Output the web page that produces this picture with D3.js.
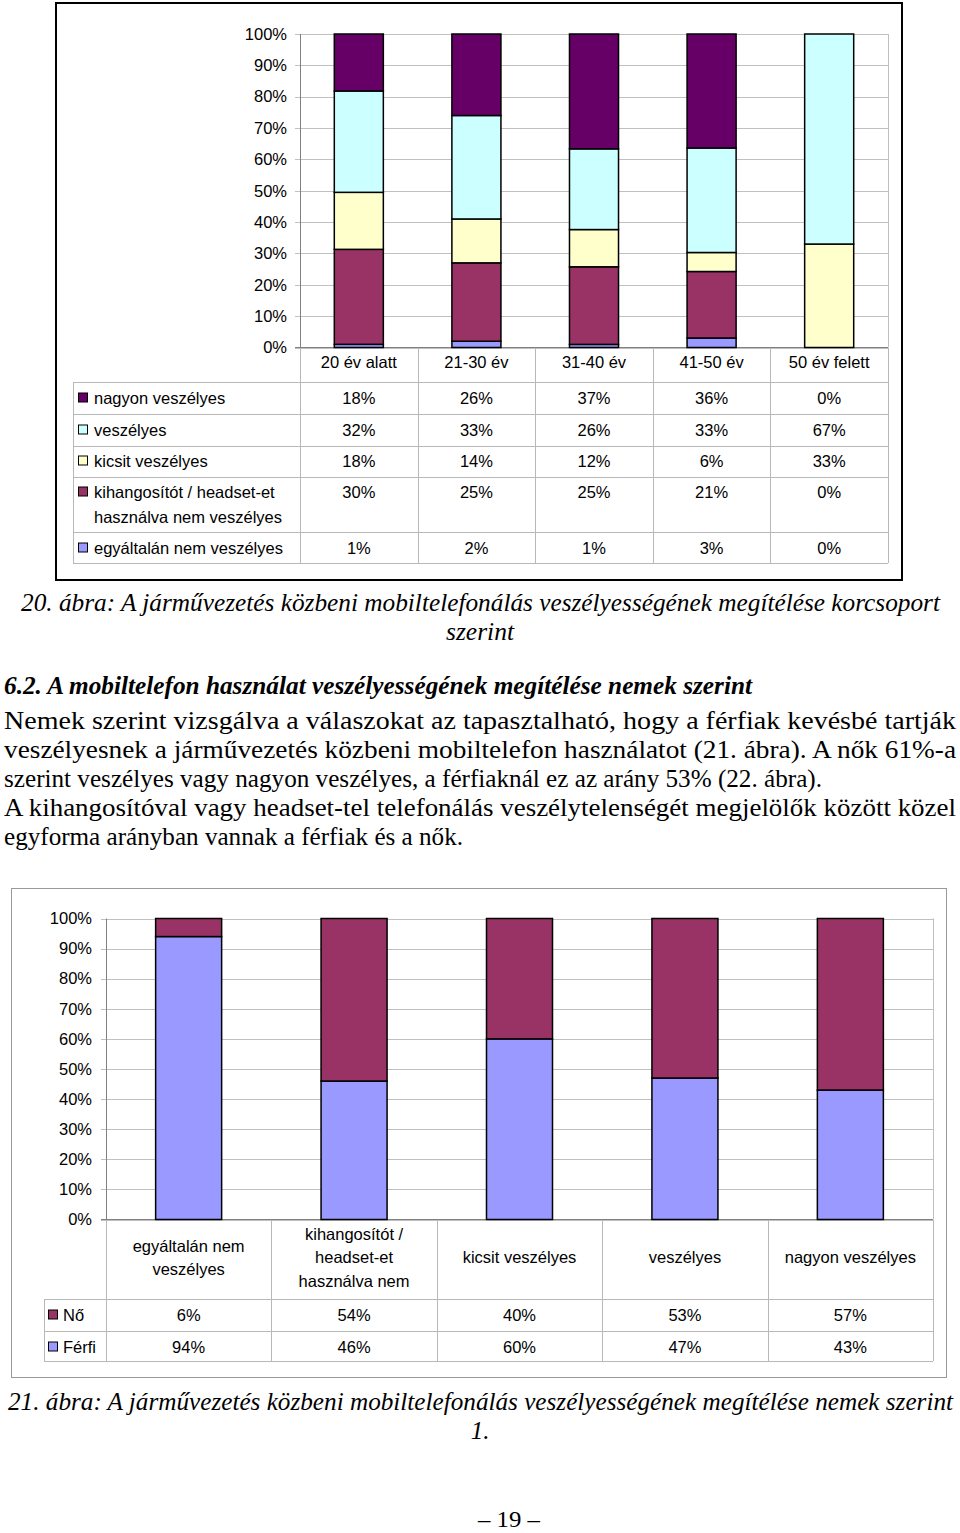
<!DOCTYPE html>
<html>
<head>
<meta charset="utf-8">
<script src="https://cdn.jsdelivr.net/npm/d3@7"></script>
<style>
  html, body { margin: 0; padding: 0; background: #fff; }
  svg { display: block; }
</style>
</head>
<body>
<script>
// ---------- DATA ----------
const ageGroups = ["20 év alatt", "21-30 év", "31-40 év", "41-50 év", "50 év felett"];
const ageSeries = ["nagyon veszélyes", "veszélyes", "kicsit veszélyes", "kihangosítót / headset-et használva nem veszélyes", "egyáltalán nem veszélyes"];
const ageSeriesLabels = [["nagyon veszélyes"], ["veszélyes"], ["kicsit veszélyes"], ["kihangosítót / headset-et", "használva nem veszélyes"], ["egyáltalán nem veszélyes"]];
const nagyonVeszelyes = [18, 26, 37, 36, 0];
const veszelyes = [32, 33, 26, 33, 67];
const kicsitVeszelyes = [18, 14, 12, 6, 33];
const kihangositot = [30, 25, 25, 21, 0];
const egyaltalanNem = [1, 2, 1, 3, 0];
const ageColors = ["#660066", "#CCFFFF", "#FFFFCC", "#993366", "#9999FF"];

const genderCats = ["egyáltalán nem veszélyes", "kihangosítót / headset-et használva nem", "kicsit veszélyes", "veszélyes", "nagyon veszélyes"];
const genderCatLabels = [["egyáltalán nem", "veszélyes"], ["kihangosítót /", "headset-et", "használva nem"], ["kicsit veszélyes"], ["veszélyes"], ["nagyon veszélyes"]];
const genderSeries = ["Nő", "Férfi"];
const no = [6, 54, 40, 53, 57];
const ferfi = [94, 46, 60, 47, 43];
const genderColors = ["#993366", "#9999FF"];

const pctTicks = [0, 10, 20, 30, 40, 50, 60, 70, 80, 90, 100];
const pctTickLabels = ["0%", "10%", "20%", "30%", "40%", "50%", "60%", "70%", "80%", "90%", "100%"];

// ---------- SETUP ----------
const W = 960, H = 1533;
const svg = d3.select("body").append("svg").attr("width", W).attr("height", H);
const sans = "Liberation Sans, Arial, sans-serif";
const serif = "Liberation Serif, Times New Roman, serif";
const gridCol = "#c0c0c0", axisCol = "#808080", tableCol = "#b8b8b8";
const fs = 16.5;

// ================= CHART 1 =================
svg.append("rect").attr("x", 56).attr("y", 3).attr("width", 846).attr("height", 577)
  .attr("fill", "none").attr("stroke", "#000").attr("stroke-width", 2);

const x1 = d3.scaleBand().domain(ageGroups).range([300, 888]).paddingInner(0.583).paddingOuter(0.2917);
const y1 = d3.scaleLinear().domain([0, 100]).range([347.5, 34]);

const ageValues = [nagyonVeszelyes, veszelyes, kicsitVeszelyes, kihangositot, egyaltalanNem];
const ageRows = ageGroups.map((g, i) => {
  const o = { group: g };
  ageSeries.forEach((s, j) => o[s] = ageValues[j][i]);
  return o;
});
const ageStackKeys = ageSeries.slice().reverse();
const ageStack = d3.stack().keys(ageStackKeys).offset(d3.stackOffsetExpand)(ageRows);

const g1 = svg.append("g");
g1.selectAll("line.grid").data(pctTicks).join("line")
  .attr("x1", 295).attr("x2", 888)
  .attr("y1", d => Math.round(y1(d)) + 0.5).attr("y2", d => Math.round(y1(d)) + 0.5)
  .attr("stroke", gridCol);
g1.append("line").attr("x1", 888.5).attr("x2", 888.5).attr("y1", 34).attr("y2", 347.5).attr("stroke", gridCol);
g1.append("line").attr("x1", 300.5).attr("x2", 300.5).attr("y1", 34).attr("y2", 348).attr("stroke", axisCol);
g1.append("line").attr("x1", 295).attr("x2", 888).attr("y1", 347.5).attr("y2", 347.5).attr("stroke", axisCol);
g1.selectAll("text.yl").data(pctTicks).join("text")
  .attr("x", 287).attr("y", d => y1(d)).attr("dy", "0.35em")
  .attr("text-anchor", "end").attr("font-family", sans).attr("font-size", fs)
  .text((d, i) => pctTickLabels[i]);
ageStack.forEach(layer => {
  const color = ageColors[ageSeries.indexOf(layer.key)];
  g1.selectAll(null).data(layer.filter(d => d[1] - d[0] > 0)).join("rect")
    .attr("x", d => x1(d.data.group))
    .attr("width", x1.bandwidth())
    .attr("y", d => y1(d[1] * 100))
    .attr("height", d => y1(d[0] * 100) - y1(d[1] * 100))
    .attr("fill", color).attr("stroke", "#000").attr("stroke-width", 1.5);
});
g1.selectAll("text.cat").data(ageGroups).join("text")
  .attr("x", d => x1(d) + x1.bandwidth() / 2).attr("y", 362).attr("dy", "0.35em")
  .attr("text-anchor", "middle").attr("font-family", sans).attr("font-size", fs)
  .text(d => d);
const t1Rows = [382, 414, 446, 477, 532, 563];
g1.selectAll("line.trow").data(t1Rows).join("line")
  .attr("x1", 73).attr("x2", 888).attr("y1", d => d + 0.5).attr("y2", d => d + 0.5).attr("stroke", tableCol);
const t1Cols = ageGroups.map(g => x1(g) - x1.step() * x1.paddingInner() / 2).concat([888]);
g1.selectAll("line.tcol").data(t1Cols).join("line")
  .attr("x1", d => Math.round(d) + 0.5).attr("x2", d => Math.round(d) + 0.5)
  .attr("y1", 348).attr("y2", 563).attr("stroke", tableCol);
g1.append("line").attr("x1", 73.5).attr("x2", 73.5).attr("y1", 382).attr("y2", 563).attr("stroke", tableCol);
const rowY1 = [398, 430, 461, 492, 548];
ageSeries.forEach((s, j) => {
  const yy = rowY1[j];
  g1.append("rect").attr("x", 78.5).attr("y", yy - 5).attr("width", 9).attr("height", 9)
    .attr("fill", ageColors[j]).attr("stroke", "#000").attr("stroke-width", 1);
  ageSeriesLabels[j].forEach((ln, k) => {
    g1.append("text").attr("x", 94).attr("y", yy + k * 25).attr("dy", "0.35em")
      .attr("font-family", sans).attr("font-size", fs).text(ln);
  });
  g1.selectAll(null).data(ageGroups).join("text")
    .attr("x", (d) => x1(d) + x1.bandwidth() / 2).attr("y", yy).attr("dy", "0.35em")
    .attr("text-anchor", "middle").attr("font-family", sans).attr("font-size", fs)
    .text((d, i) => ageValues[j][i] + "%");
});

// ================= TEXT BLOCK =================
function serifLine(txt, x, y, len, opts = {}) {
  const t = svg.append("text").attr("x", x).attr("y", y)
    .attr("font-family", serif).attr("font-size", opts.size || 25)
    .attr("font-style", opts.italic ? "italic" : "normal")
    .attr("font-weight", opts.bold ? "bold" : "normal")
    .attr("text-anchor", opts.anchor || "start")
    .text(txt);
  if (len) t.attr("textLength", len).attr("lengthAdjust", "spacingAndGlyphs");
  return t;
}
serifLine("20. ábra: A járművezetés közbeni mobiltelefonálás veszélyességének megítélése korcsoport", 21, 611, 919, { italic: true });
serifLine("szerint", 480, 640, 68, { italic: true, anchor: "middle" });
serifLine("6.2. A mobiltelefon használat veszélyességének megítélése nemek szerint", 4, 694, 748, { italic: true, bold: true });
serifLine("Nemek szerint vizsgálva a válaszokat az tapasztalható, hogy a férfiak kevésbé tartják", 4, 729, 952);
serifLine("veszélyesnek a járművezetés közbeni mobiltelefon használatot (21. ábra). A nők 61%-a", 4, 758, 952);
serifLine("szerint veszélyes vagy nagyon veszélyes, a férfiaknál ez az arány 53% (22. ábra).", 4, 787, 818);
serifLine("A kihangosítóval vagy headset-tel telefonálás veszélytelenségét megjelölők között közel", 4, 816, 952);
serifLine("egyforma arányban vannak a férfiak és a nők.", 4, 845, 459);

// ================= CHART 2 =================
svg.append("rect").attr("x", 11.5).attr("y", 888.5).attr("width", 935).attr("height", 489)
  .attr("fill", "none").attr("stroke", "#999").attr("stroke-width", 1);

const x2 = d3.scaleBand().domain(genderCats).range([106, 933]).paddingInner(0.601).paddingOuter(0.3);
const y2 = d3.scaleLinear().domain([0, 100]).range([1219.5, 918.5]);
const genderValues = [no, ferfi];
const genderRows = genderCats.map((c, i) => ({ cat: c, "Nő": no[i], "Férfi": ferfi[i] }));
const genderStack = d3.stack().keys(["Férfi", "Nő"]).offset(d3.stackOffsetExpand)(genderRows);

const g2 = svg.append("g");
g2.selectAll("line.grid").data(pctTicks).join("line")
  .attr("x1", 101).attr("x2", 933)
  .attr("y1", d => Math.round(y2(d)) + 0.5).attr("y2", d => Math.round(y2(d)) + 0.5)
  .attr("stroke", gridCol);
g2.append("line").attr("x1", 933.5).attr("x2", 933.5).attr("y1", 918.5).attr("y2", 1219.5).attr("stroke", gridCol);
g2.append("line").attr("x1", 106.5).attr("x2", 106.5).attr("y1", 918.5).attr("y2", 1220).attr("stroke", axisCol);
g2.append("line").attr("x1", 101).attr("x2", 933).attr("y1", 1219.5).attr("y2", 1219.5).attr("stroke", axisCol);
g2.selectAll("text.yl").data(pctTicks).join("text")
  .attr("x", 92).attr("y", d => y2(d)).attr("dy", "0.35em")
  .attr("text-anchor", "end").attr("font-family", sans).attr("font-size", fs)
  .text((d, i) => pctTickLabels[i]);
genderStack.forEach(layer => {
  const color = genderColors[genderSeries.indexOf(layer.key)];
  g2.selectAll(null).data(layer.filter(d => d[1] - d[0] > 0)).join("rect")
    .attr("x", d => x2(d.data.cat))
    .attr("width", x2.bandwidth())
    .attr("y", d => y2(d[1] * 100))
    .attr("height", d => y2(d[0] * 100) - y2(d[1] * 100))
    .attr("fill", color).attr("stroke", "#000").attr("stroke-width", 1.5);
});
genderCats.forEach((c, i) => {
  const lines = genderCatLabels[i];
  const cy = 1257.5;
  lines.forEach((ln, k) => {
    g2.append("text").attr("x", x2(c) + x2.bandwidth() / 2)
      .attr("y", cy + (k - (lines.length - 1) / 2) * 23.5).attr("dy", "0.35em")
      .attr("text-anchor", "middle").attr("font-family", sans).attr("font-size", fs).text(ln);
  });
});
const t2Rows = [1299, 1331, 1361];
g2.selectAll("line.trow").data(t2Rows).join("line")
  .attr("x1", 44).attr("x2", 933).attr("y1", d => d + 0.5).attr("y2", d => d + 0.5).attr("stroke", tableCol);
const t2Cols = genderCats.map(c => x2(c) - x2.step() * x2.paddingInner() / 2).concat([933]);
g2.selectAll("line.tcol").data(t2Cols).join("line")
  .attr("x1", d => Math.round(d) + 0.5).attr("x2", d => Math.round(d) + 0.5)
  .attr("y1", 1220).attr("y2", 1361).attr("stroke", tableCol);
g2.append("line").attr("x1", 44.5).attr("x2", 44.5).attr("y1", 1299).attr("y2", 1361).attr("stroke", tableCol);
const rowY2 = [1315, 1347];
genderSeries.forEach((s, j) => {
  const yy = rowY2[j];
  g2.append("rect").attr("x", 48.5).attr("y", yy - 5).attr("width", 9).attr("height", 9)
    .attr("fill", genderColors[j]).attr("stroke", "#000").attr("stroke-width", 1);
  g2.append("text").attr("x", 63).attr("y", yy).attr("dy", "0.35em")
    .attr("font-family", sans).attr("font-size", fs).text(s);
  g2.selectAll(null).data(genderCats).join("text")
    .attr("x", d => x2(d) + x2.bandwidth() / 2).attr("y", yy).attr("dy", "0.35em")
    .attr("text-anchor", "middle").attr("font-family", sans).attr("font-size", fs)
    .text((d, i) => genderValues[j][i] + "%");
});

serifLine("21. ábra: A járművezetés közbeni mobiltelefonálás veszélyességének megítélése nemek szerint", 8, 1410, 945, { italic: true });
serifLine("1.", 480, 1439, null, { italic: true, anchor: "middle" });
serifLine("– 19 –", 509, 1527, 62, { anchor: "middle", size: 23 });
</script>
</body>
</html>
